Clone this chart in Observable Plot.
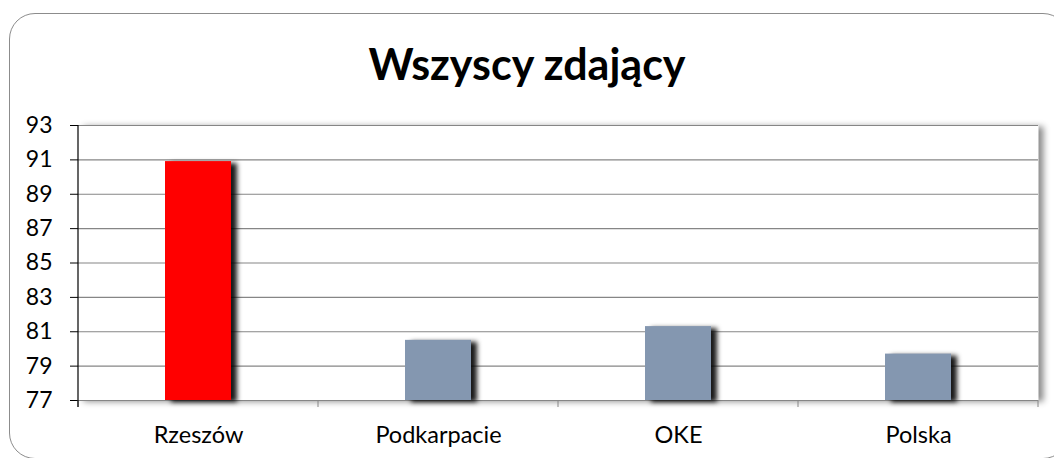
<!DOCTYPE html>
<html>
<head>
<meta charset="utf-8">
<script src="https://cdn.jsdelivr.net/npm/d3@7"></script>
<script src="https://cdn.jsdelivr.net/npm/@observablehq/plot@0.6"></script>
<style>
  html, body { margin: 0; padding: 0; background: #fff; }
  #wrap { position: relative; width: 1054px; height: 458px; overflow: hidden; background: #fff; font-family: Lato, "Open Sans", sans-serif; }
  #border { position: absolute; left: 9px; top: 13px; width: 1060px; height: 446px; border: 1.3px solid #8c8c8c; border-radius: 26px; box-sizing: border-box; }
  #title { position: absolute; left: 0; width: 1054px; top: 39px; text-align: center; font-weight: 700; font-size: 43px; color: #000; line-height: 50px; }
  #chart { position: absolute; left: 0; top: 100px; }
</style>
</head>
<body>
<div id="wrap">
  <div id="border"></div>
  <div id="title">Wszyscy zdający</div>
  <div id="chart"></div>
</div>
<script>
const categories = ["Rzeszów", "Podkarpacie", "OKE", "Polska"];
const values = [90.9, 80.5, 81.3, 79.7];
const barColors = ["#FF0000", "#8497B0", "#8497B0", "#8497B0"];
const yTicks = [77, 79, 81, 83, 85, 87, 89, 91, 93];

const data = categories.map((c, i) => ({region: c, value: values[i], color: barColors[i]}));
const yMin = yTicks[0], yMax = yTicks[yTicks.length - 1];

function bandEdges(index, scales) {
  const x = scales.x, y = scales.y;
  const bw = typeof x.bandwidth === "function" ? x.bandwidth() : x.bandwidth;
  const y0 = y(yMin), yTop = y(yMax);
  const edges = [x(categories[0]), ...categories.map(c => x(c) + bw)];
  const g = d3.create("svg:g");
  g.selectAll("line.t").data(edges).join("line")
    .attr("x1", d => d).attr("x2", d => d)
    .attr("y1", y0).attr("y2", y0 + 7)
    .attr("stroke", "#868686").attr("stroke-width", 1);
  g.append("line")
    .attr("x1", edges[0]).attr("x2", edges[0])
    .attr("y1", yTop).attr("y2", y0 + 7)
    .attr("stroke", "#000").attr("stroke-width", 1.2);
  return g.node();
}

const chart = Plot.plot({
  width: 1054,
  height: 358,
  marginTop: 25,
  marginBottom: 58,
  marginLeft: 78,
  marginRight: 16,
  style: {fontFamily: "Lato, 'Open Sans', sans-serif", background: "transparent", overflow: "visible"},
  x: {domain: categories, padding: 0, label: null},
  y: {domain: [yMin, yMax], label: null},
  marks: [
    Plot.frame({fill: "white", stroke: "none"}),
    Plot.gridY(yTicks, {stroke: "#868686", strokeOpacity: 1, strokeWidth: 1.2}),
    Plot.barY(data, {x: "region", y1: yMin, y2: "value", fill: "color", insetLeft: 87, insetRight: 87}),
    Plot.axisY(yTicks, {tickSize: 8, tickPadding: 18, fontSize: 23, stroke: "#000", fill: "#000"}),
    Plot.axisX({tickSize: 0, tickPadding: 26, fontSize: 23.5, fill: "#000"}),
    bandEdges
  ]
});
document.getElementById("chart").appendChild(chart);

const svg = d3.select(chart);
svg.selectAll('[aria-label="frame"]').style("filter", "drop-shadow(5px 1px 3px rgba(0,0,0,0.45))");
svg.selectAll('g[aria-label="bar"] rect').style("filter", "drop-shadow(6px 2px 2.5px rgba(0,0,0,0.9))");
</script>
</body>
</html>
